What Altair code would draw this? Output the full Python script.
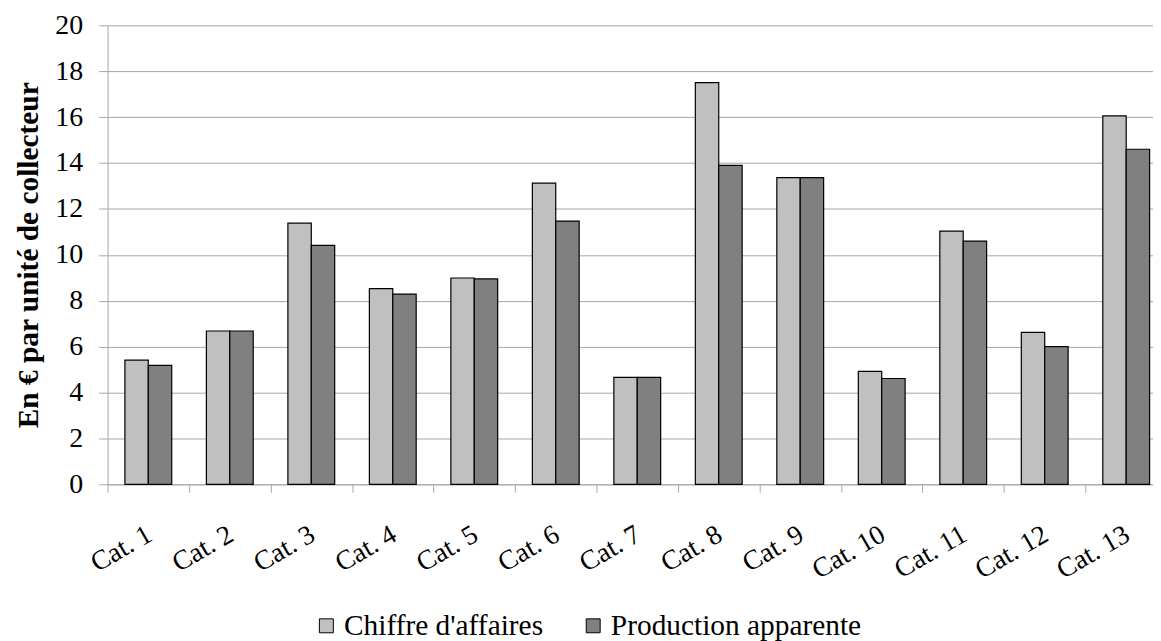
import altair as alt
import pandas as pd

categories = ["Cat. 1", "Cat. 2", "Cat. 3", "Cat. 4", "Cat. 5", "Cat. 6", "Cat. 7",
              "Cat. 8", "Cat. 9", "Cat. 10", "Cat. 11", "Cat. 12", "Cat. 13"]
series_names = ["Chiffre d'affaires", "Production apparente"]
chiffre = [5.41, 6.68, 11.38, 8.53, 8.99, 13.12, 4.66, 17.50, 13.36, 4.92, 11.03, 6.62, 16.05]
production = [5.18, 6.68, 10.41, 8.29, 8.95, 11.47, 4.66, 13.90, 13.36, 4.61, 10.60, 6.00, 14.60]
y_ticks = [0, 2, 4, 6, 8, 10, 12, 14, 16, 18, 20]
colors = ["#C0C0C0", "#808080"]

rows = []
for c, a, p in zip(categories, chiffre, production):
    rows.append({"cat": c, "serie": series_names[0], "val": a})
    rows.append({"cat": c, "serie": series_names[1], "val": p})
df = pd.DataFrame(rows)

FONT = "Liberation Serif"
GRAY = "#A6A6A6"

chart = alt.Chart(df).mark_bar(stroke="black", strokeWidth=1.2).encode(
    x=alt.X("cat:N", sort=categories, title=None,
            scale=alt.Scale(range=[0, 1064], paddingInner=0, paddingOuter=0),
            axis=alt.Axis(labelAngle=-30, labelFontSize=27.5, labelColor="black",
                          labelFont=FONT,
                          tickBand="extent", tickSize=8, tickColor=GRAY, domainColor=GRAY,
                          labelPadding=28, labelOffset=-6, grid=False,
                          labelAlign="right", labelBaseline="top")),
    xOffset=alt.XOffset("serie:N", sort=series_names,
                        scale=alt.Scale(paddingOuter=0.741, paddingInner=0)),
    y=alt.Y("val:Q", scale=alt.Scale(domain=[0, 20], nice=False),
            axis=alt.Axis(values=y_ticks, title="En € par unité de collecteur",
                          titleFont=FONT, labelFont=FONT,
                          titleFontSize=29.5, titleFontWeight="bold", titleColor="black",
                          titlePadding=11, labelFontSize=28, labelColor="black",
                          labelPadding=16, tickSize=9, tickColor=GRAY, domainColor=GRAY,
                          gridColor=GRAY)),
    color=alt.Color("serie:N", sort=series_names,
                    scale=alt.Scale(domain=series_names, range=colors),
                    legend=alt.Legend(title=None, orient="none", legendX=205, legendY=588,
                                      direction="horizontal", labelFontSize=29.5,
                                      labelFont=FONT,
                                      labelColor="black", symbolType="square", symbolSize=196,
                                      symbolStrokeColor="black", symbolStrokeWidth=1,
                                      labelOffset=3, columnPadding=35, padding=0,
                                      labelLimit=500)),
).properties(
    width=1050, height=461,
    autosize=alt.AutoSizeParams(type="none"),
    padding={"left": 100, "top": 16, "right": 0, "bottom": 156},
).configure(font=FONT).configure_view(stroke=None)

chart.save("out.html", embed_options={"renderer": "svg", "actions": False})
